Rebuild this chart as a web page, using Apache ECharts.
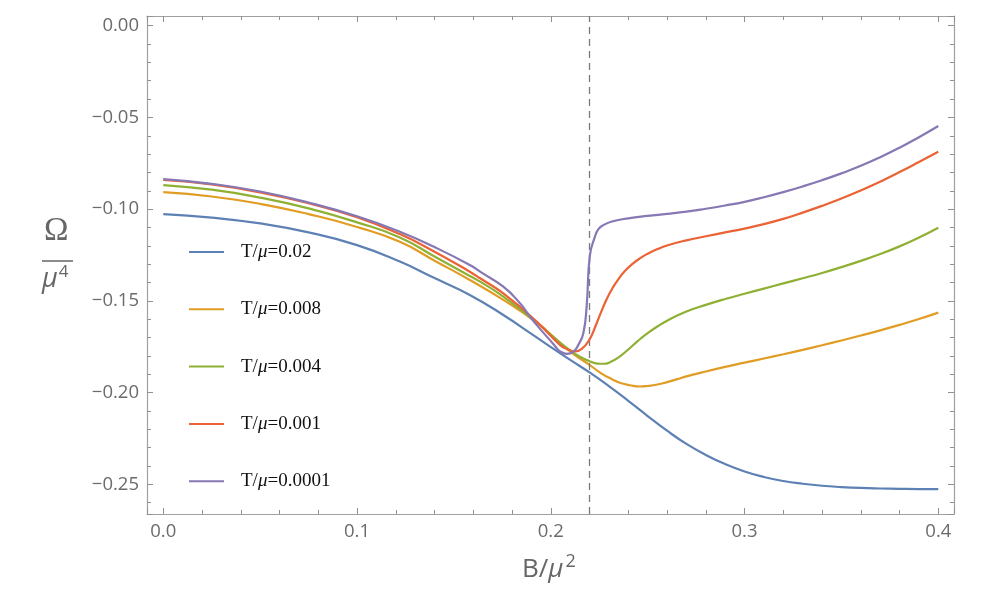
<!DOCTYPE html>
<html>
<head>
<meta charset="utf-8">
<script src="https://cdn.jsdelivr.net/npm/echarts@6/dist/echarts.min.js"></script>
<style>
  html, body { margin: 0; padding: 0; background: #fff; }
  #main { width: 985px; height: 592px; }
</style>
</head>
<body>
<div id="main"></div>
<script>
// values: B/mu^2 and Omega/mu^4 for each temperature
var legendNames = ['0.02', '0.008', '0.004', '0.001', '0.0001'];
var colors = ['#5E81B5', '#E19C24', '#8FB032', '#EB6235', '#8778B3'];

var bT002 = [0, 0.025, 0.05, 0.075, 0.1, 0.1221, 0.14, 0.1582, 0.1755, 0.19, 0.2, 0.21, 0.22, 0.23, 0.24, 0.25, 0.26, 0.27, 0.28, 0.29, 0.30, 0.31, 0.32, 0.33, 0.34, 0.35, 0.36, 0.37, 0.38, 0.39, 0.4];
var oT002 = [-0.1027, -0.1046, -0.1078, -0.1127, -0.1196, -0.1286, -0.1376, -0.1468, -0.1577, -0.1680, -0.1752, -0.1822, -0.1890, -0.1965, -0.2045, -0.2128, -0.2208, -0.2280, -0.2340, -0.2390, -0.2430, -0.2460, -0.2482, -0.2497, -0.2508, -0.2515, -0.2520, -0.2523, -0.2525, -0.2526, -0.2526];

var bT0008 = [0, 0.025, 0.05, 0.075, 0.1, 0.1221, 0.14, 0.1582, 0.1755, 0.1927, 0.2047, 0.2116, 0.22, 0.226, 0.2323, 0.236, 0.2409, 0.246, 0.25, 0.255, 0.26, 0.265, 0.27, 0.28, 0.29, 0.30, 0.31, 0.32, 0.33, 0.34, 0.35, 0.36, 0.37, 0.38, 0.39, 0.40];
var oT0008 = [-0.0907, -0.0931, -0.0971, -0.1027, -0.1097, -0.1178, -0.1281, -0.1386, -0.1495, -0.1618, -0.1727, -0.1789, -0.1849, -0.1895, -0.1931, -0.1948, -0.1960, -0.1967, -0.1964, -0.1956, -0.1943, -0.1928, -0.1912, -0.1885, -0.1860, -0.1837, -0.1814, -0.1791, -0.1767, -0.1742, -0.1716, -0.1689, -0.1661, -0.1631, -0.1599, -0.1564];

var bT0004 = [0, 0.025, 0.05, 0.075, 0.1, 0.1221, 0.14, 0.1582, 0.1635, 0.1755, 0.1927, 0.2047, 0.2116, 0.216, 0.22, 0.224, 0.2275, 0.231, 0.235, 0.24, 0.245, 0.25, 0.255, 0.26, 0.27, 0.28, 0.29, 0.30, 0.31, 0.32, 0.33, 0.34, 0.35, 0.36, 0.37, 0.38, 0.39, 0.40];
var oT0004 = [-0.0869, -0.0894, -0.0937, -0.0996, -0.1072, -0.1154, -0.1258, -0.1364, -0.1395, -0.1477, -0.1618, -0.1727, -0.1782, -0.1810, -0.1829, -0.1842, -0.1843, -0.1832, -0.1808, -0.1765, -0.1718, -0.1676, -0.1640, -0.1608, -0.1558, -0.1522, -0.1490, -0.1461, -0.1433, -0.1405, -0.1377, -0.1348, -0.1316, -0.1282, -0.1245, -0.1203, -0.1155, -0.1101];

var bT0001 = [0, 0.025, 0.05, 0.075, 0.1, 0.1221, 0.14, 0.1582, 0.1635, 0.1755, 0.1927, 0.2047, 0.2082, 0.2125, 0.216, 0.22, 0.223, 0.226, 0.229, 0.232, 0.235, 0.238, 0.242, 0.246, 0.25, 0.255, 0.26, 0.27, 0.28, 0.29, 0.30, 0.31, 0.32, 0.33, 0.34, 0.35, 0.36, 0.37, 0.38, 0.39, 0.40];
var oT0001 = [-0.0840, -0.0865, -0.0909, -0.0968, -0.1044, -0.1136, -0.1232, -0.1341, -0.1377, -0.1459, -0.1613, -0.1740, -0.1762, -0.1776, -0.1762, -0.1710, -0.1640, -0.1560, -0.1487, -0.1428, -0.1380, -0.1340, -0.1300, -0.1268, -0.1243, -0.1218, -0.1198, -0.1170, -0.1148, -0.1127, -0.1106, -0.1082, -0.1053, -0.1019, -0.0982, -0.0942, -0.0898, -0.0850, -0.0798, -0.0743, -0.0687];

var bT00001 = [0, 0.025, 0.05, 0.075, 0.1, 0.1221, 0.14, 0.1582, 0.1635, 0.1755, 0.1841, 0.1893, 0.1927, 0.2013, 0.2047, 0.2082, 0.2116, 0.2142, 0.2168, 0.2185, 0.2202, 0.2228, 0.2245, 0.2271, 0.232, 0.24, 0.25, 0.26, 0.27, 0.28, 0.29, 0.30, 0.31, 0.32, 0.33, 0.34, 0.35, 0.36, 0.37, 0.38, 0.39, 0.40];
var oT00001 = [-0.0836, -0.0862, -0.0904, -0.0964, -0.1039, -0.1123, -0.1207, -0.1304, -0.1341, -0.1423, -0.1513, -0.1586, -0.1631, -0.1735, -0.1775, -0.1789, -0.1778, -0.1740, -0.1676, -0.1530, -0.1250, -0.1150, -0.1110, -0.1087, -0.1066, -0.1050, -0.1037, -0.1026, -0.1014, -0.0998, -0.0980, -0.0960, -0.0935, -0.0907, -0.0876, -0.0842, -0.0805, -0.0764, -0.0717, -0.0665, -0.0608, -0.0547];

var criticalB = 0.22;

var curvesB = [bT002, bT0008, bT0004, bT0001, bT00001];
var curvesO = [oT002, oT0008, oT0004, oT0001, oT00001];

function zip(xs, ys) {
    var out = [];
    for (var i = 0; i < xs.length; i++) {
        out.push([xs[i], ys[i]]);
    }
    return out;
}

function minusSign(s) {
    return s.replace('-', '\u2212');
}

var chart = echarts.init(document.getElementById('main'), null, {renderer: 'canvas'});

var frameColor = '#a0a0a0';
var labelColor = '#6b6b6b';

function frameAxis(pos, showLabel, fmt) {
    return {
        type: 'value',
        position: pos,
        splitNumber: (pos === 'left' || pos === 'right') ? 5 : 4,
        axisLine: {show: true, onZero: false, lineStyle: {color: frameColor, width: 1.2}},
        axisTick: {show: true, inside: true, length: 6, lineStyle: {color: '#909090', width: 1}},
        minorTick: {show: true, splitNumber: 5, length: 4, lineStyle: {color: '#909090', width: 1}},
        splitLine: {show: false},
        axisLabel: {
            show: showLabel,
            showMinLabel: false,
            showMaxLabel: false,
            color: labelColor,
            fontFamily: 'Open Sans',
            fontSize: 18.5,
            margin: 8,
            formatter: fmt
        }
    };
}

var xFmt = function (v) { return minusSign(v.toFixed(1)); };
var yFmt = function (v) { return minusSign(v.toFixed(2)); };

var xBottom = frameAxis('bottom', true, xFmt);
var xTop = frameAxis('top', false, xFmt);
var yLeft = frameAxis('left', true, yFmt);
var yRight = frameAxis('right', false, yFmt);
[xBottom, xTop].forEach(function (a) { a.min = -0.0084; a.max = 0.4081; });
[yLeft, yRight].forEach(function (a) { a.min = -0.2662; a.max = 0.0053; });
// minor ticks inside too
[xBottom, xTop, yLeft, yRight].forEach(function (a) {
    a.minorTick.inside = true;
});

var series = [];
for (var k = 0; k < curvesB.length; k++) {
    series.push({
        name: legendNames[k],
        type: 'line',
        xAxisIndex: 0,
        yAxisIndex: 0,
        data: zip(curvesB[k], curvesO[k]),
        showSymbol: false,
        symbol: 'none',
        smooth: 0.5,
        lineStyle: {color: colors[k], width: 2.2},
        itemStyle: {color: colors[k]},
        z: 3 + k
    });
}
series[0].markLine = {
    silent: true,
    symbol: ['none', 'none'],
    label: {show: false},
    lineStyle: {color: '#7a7a7a', type: [7, 5], width: 1.3},
    data: [{xAxis: criticalB}]
};

var option = {
    backgroundColor: '#ffffff',
    animation: false,
    color: colors,
    grid: {left: 147, right: 31, top: 16, bottom: 78, containLabel: false},
    xAxis: [xBottom, xTop],
    yAxis: [yLeft, yRight],
    legend: {
        orient: 'vertical',
        left: 189,
        top: 242,
        itemWidth: 35,
        itemHeight: 2,
        itemGap: 37.3,
        icon: 'rect',
        data: legendNames,
        formatter: function (name) {
            return '{g|}{a|T/}{i|\u03bc}{a|=' + name + '}';
        },
        textStyle: {
            fontFamily: 'Liberation Serif',
            fontSize: 19,
            color: '#111',
            lineHeight: 20,
            rich: {
                g: {width: 12, lineHeight: 20},
                a: {fontFamily: 'Liberation Serif', fontSize: 19, color: '#111', lineHeight: 20},
                i: {fontFamily: 'Liberation Serif', fontStyle: 'italic', fontSize: 19, color: '#111', lineHeight: 20}
            }
        },
        padding: 0
    },
    graphic: [
        {
            type: 'text',
            left: 522,
            top: 553,
            style: {
                text: '{a|B/}{i|\u03bc}{s|2}',
                rich: {
                    a: {fontFamily: 'Open Sans', fontSize: 26, fill: '#666'},
                    i: {fontFamily: 'Open Sans', fontStyle: 'italic', fontSize: 26, fill: '#666'},
                    s: {fontFamily: 'Open Sans', fontSize: 18, fill: '#666', padding: [0, 0, 15, 2]}
                }
            }
        },
        {
            type: 'text',
            left: 44,
            top: 215,
            style: {text: '\u03a9', fontFamily: 'Liberation Serif', fontSize: 33, fill: '#666'}
        },
        {
            type: 'line',
            shape: {x1: 42, y1: 261, x2: 73, y2: 261},
            style: {stroke: '#666', lineWidth: 1.5}
        },
        {
            type: 'text',
            left: 42,
            top: 264,
            style: {
                text: '{i|\u03bc}{s|4}',
                rich: {
                    i: {fontFamily: 'Open Sans', fontStyle: 'italic', fontSize: 27, fill: '#666'},
                    s: {fontFamily: 'Open Sans', fontSize: 17, fill: '#666', padding: [0, 0, 14, 1]}
                }
            }
        }
    ],
    series: series
};

chart.setOption(option);
</script>
</body>
</html>
